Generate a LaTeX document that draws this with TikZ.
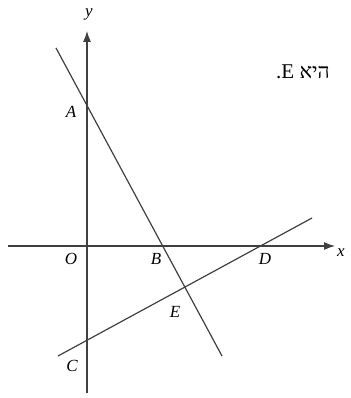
\documentclass[tikz,border=0pt]{standalone}
\usepackage{fontspec}
\setmainfont{Liberation Serif}
\newfontfamily\hebfont[Script=Hebrew]{Liberation Serif}
\TeXXeTstate=1
\usetikzlibrary{arrows.meta}
\begin{document}
\begin{tikzpicture}[x=1pt,y=-1pt,
  axis/.style={draw=black!75,line width=1.2pt,-{Latex[length=11pt,width=8pt]}},
  geoline/.style={draw=black!75,line width=1.2pt},
  lab/.style={font=\fontsize{17}{17}\selectfont\itshape,inner sep=0pt}]
\useasboundingbox (0,0) rectangle (350,398);
% axes
\coordinate (xl) at (8,246);
\coordinate (xr) at (335,246);
\coordinate (yb) at (87,393);
\coordinate (yt) at (87,31);
\draw[axis] (xl) -- (xr);
\draw[axis] (yb) -- (yt);
% lines
\coordinate (ab1) at (56,48);
\coordinate (ab2) at (222,356);
\coordinate (cd1) at (58,356);
\coordinate (cd2) at (312,218);
\draw[geoline] (ab1) -- (ab2);
\draw[geoline] (cd1) -- (cd2);
% labels
\node[lab] (ly) at (89,14) {y};
\node[lab] (lx) at (341,253) {x};
\node[lab] (lA) at (71,112) {A};
\node[lab] (lO) at (71,259) {O};
\node[lab] (lB) at (156,259) {B};
\node[lab] (lD) at (265,259) {D};
\node[lab] (lE) at (175,312) {E};
\node[lab] (lC) at (72,366) {C};
% text
\node[inner sep=0pt,font=\fontsize{21}{21}\selectfont] (txt) at (303,72) {.E\ {\hebfont\beginR היא\endR}};
\end{tikzpicture}
\end{document}
